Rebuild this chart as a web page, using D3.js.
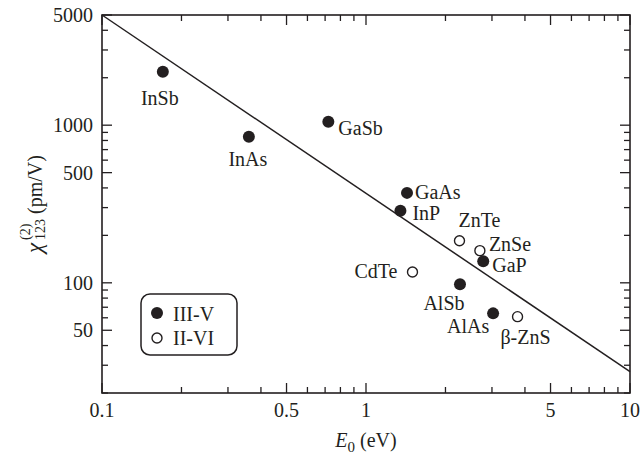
<!DOCTYPE html>
<html>
<head>
<meta charset="utf-8">
<script src="https://cdn.jsdelivr.net/npm/d3@7"></script>
<style>
  html, body { margin: 0; padding: 0; background: #fff; }
  svg text { font-family: "Liberation Serif", "Times New Roman", serif; fill: #231f20; }
</style>
</head>
<body>
<svg id="chart" width="641" height="456"></svg>
<script>
// Semiconductor nonlinear susceptibility vs. band gap
const names   = ["InSb", "InAs", "GaSb", "GaAs", "InP", "ZnTe", "ZnSe", "GaP", "CdTe", "AlSb", "AlAs", "β-ZnS"];
const bandGap = [0.17, 0.36, 0.72, 1.43, 1.35, 2.26, 2.70, 2.78, 1.50, 2.27, 3.03, 3.75];   // E0 (eV)
const chi2    = [2180, 845, 1050, 372, 287, 185, 160, 137, 117, 98, 64, 61];               // pm/V
const family  = ["III-V", "III-V", "III-V", "III-V", "III-V", "II-VI", "II-VI", "III-V", "II-VI", "III-V", "III-V", "II-VI"];

// Power-law trend line endpoints
const trendE   = [0.1, 10];
const trendChi = [5000, 27.3];

// Axis tick labels
const xTickLabels = [0.1, 0.5, 1, 5, 10];
const yTickLabels = [50, 100, 500, 1000, 5000];

// Label placement relative to each marker
const labelPlace = {
  "InSb":  { dx: -3,  dy: 33, anchor: "middle" },
  "InAs":  { dx: -1,  dy: 29, anchor: "middle" },
  "GaSb":  { dx: 10,  dy: 13, anchor: "start" },
  "GaAs":  { dx: 8,   dy: 6,  anchor: "start" },
  "InP":   { dx: 12,  dy: 9,  anchor: "start" },
  "ZnTe":  { dx: 20,  dy: -14, anchor: "middle" },
  "ZnSe":  { dx: 9,   dy: 0,  anchor: "start" },
  "GaP":   { dx: 9,   dy: 11, anchor: "start" },
  "CdTe":  { dx: -15, dy: 6,  anchor: "end" },
  "AlSb":  { dx: -16, dy: 26, anchor: "middle" },
  "AlAs":  { dx: -25, dy: 20, anchor: "middle" },
  "β-ZnS": { dx: 8,   dy: 27, anchor: "middle" }
};

const ink = "#231f20";
const svg = d3.select("#chart");
const pLeft = 102, pRight = 630, pTop = 15, pBottom = 393;

const x = d3.scaleLog().domain([0.1, 10]).range([pLeft, pRight]);
const y = d3.scaleLog().domain([20, 5000]).range([pBottom, pTop]);

// Tick values: every integer multiple within each decade
function logTicks(lo, hi) {
  const out = [];
  for (let p = Math.floor(Math.log10(lo)); p <= Math.ceil(Math.log10(hi)); p++) {
    for (let m = 1; m <= 9; m++) {
      const v = m * Math.pow(10, p);
      if (v >= lo * 0.9999 && v <= hi * 1.0001) out.push(+v.toPrecision(6));
    }
  }
  return out;
}
const xTicks = logTicks(0.1, 10);
const yTicks = logTicks(20, 5000);
const isMajor = v => { const m = v / Math.pow(10, Math.floor(Math.log10(v) + 1e-9)); return Math.abs(m - 1) < 1e-6 || Math.abs(m - 5) < 1e-6; };
const majorLen = 10, minorLen = 6;

const ticks = svg.append("g").attr("stroke", ink).attr("stroke-width", 1.3);
xTicks.forEach(v => {
  const px = x(v), len = isMajor(v) ? majorLen : minorLen;
  ticks.append("line").attr("x1", px).attr("x2", px).attr("y1", pBottom).attr("y2", pBottom - len);
  ticks.append("line").attr("x1", px).attr("x2", px).attr("y1", pTop).attr("y2", pTop + len);
});
yTicks.forEach(v => {
  const py = y(v), len = isMajor(v) ? majorLen : minorLen;
  ticks.append("line").attr("y1", py).attr("y2", py).attr("x1", pLeft).attr("x2", pLeft + len);
  ticks.append("line").attr("y1", py).attr("y2", py).attr("x1", pRight).attr("x2", pRight - len);
});

// Frame
svg.append("rect").attr("x", pLeft).attr("y", pTop).attr("width", pRight - pLeft).attr("height", pBottom - pTop)
  .attr("fill", "none").attr("stroke", ink).attr("stroke-width", 1.6);

// Tick labels
svg.append("g").selectAll("text").data(xTickLabels).join("text")
  .attr("x", d => x(d)).attr("y", 417).attr("text-anchor", "middle")
  .attr("font-size", 20).text(d => d);
svg.append("g").selectAll("text").data(yTickLabels).join("text")
  .attr("x", 93).attr("y", d => y(d) + 7).attr("text-anchor", "end")
  .attr("font-size", 20).text(d => d);

// Trend line
svg.append("path")
  .datum(trendE.map((e, i) => [e, trendChi[i]]))
  .attr("d", d3.line().x(d => x(d[0])).y(d => y(d[1])))
  .attr("fill", "none").attr("stroke", ink).attr("stroke-width", 1.5);

// Markers
const pts = names.map((n, i) => ({ name: n, e: bandGap[i], c: chi2[i], fam: family[i] }));
const marks = svg.append("g");
pts.forEach(p => {
  if (p.fam === "III-V") {
    marks.append("circle").attr("cx", x(p.e)).attr("cy", y(p.c)).attr("r", 6).attr("fill", ink);
  } else {
    marks.append("circle").attr("cx", x(p.e)).attr("cy", y(p.c)).attr("r", 5)
      .attr("fill", "#fff").attr("stroke", ink).attr("stroke-width", 1.4);
  }
});

// Point labels
svg.append("g").selectAll("text").data(pts).join("text")
  .attr("x", d => x(d.e) + labelPlace[d.name].dx)
  .attr("y", d => y(d.c) + labelPlace[d.name].dy)
  .attr("text-anchor", d => labelPlace[d.name].anchor)
  .attr("font-size", 20).text(d => d.name);

// Legend
const lg = svg.append("g");
lg.append("rect").attr("x", 141).attr("y", 294).attr("width", 96).attr("height", 61).attr("rx", 9)
  .attr("fill", "#fff").attr("stroke", ink).attr("stroke-width", 1.5);
lg.append("circle").attr("cx", 157).attr("cy", 313).attr("r", 6).attr("fill", ink);
lg.append("circle").attr("cx", 157).attr("cy", 338).attr("r", 5).attr("fill", "#fff").attr("stroke", ink).attr("stroke-width", 1.4);
lg.append("text").attr("x", 173).attr("y", 321).attr("font-size", 20).text("III-V");
lg.append("text").attr("x", 173).attr("y", 345).attr("font-size", 20).text("II-VI");

// X axis title: E0 (eV)
const xt = svg.append("text").attr("x", 366).attr("y", 447).attr("text-anchor", "middle").attr("font-size", 20);
xt.append("tspan").attr("font-style", "italic").text("E");
xt.append("tspan").attr("font-size", 15).attr("dy", 5).text("0");
xt.append("tspan").attr("dy", -5).text(" (eV)");

// Y axis title: χ(2)123 (pm/V), rotated
const yt = svg.append("g").attr("transform", "translate(42,204) rotate(-90)");
yt.append("text").attr("x", -49).attr("y", 0).attr("font-size", 23).attr("font-style", "italic").text("χ");
yt.append("text").attr("x", -36).attr("y", -12).attr("font-size", 14).text("(2)");
yt.append("text").attr("x", -36).attr("y", 3).attr("font-size", 14).text("123");
yt.append("text").attr("x", -10).attr("y", 0).attr("font-size", 20).text("(pm/V)");
</script>
</body>
</html>
